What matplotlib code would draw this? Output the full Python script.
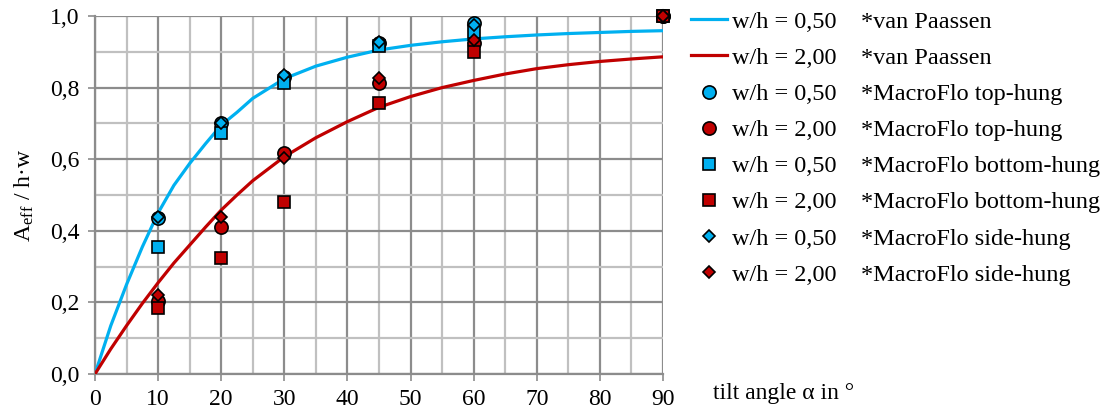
import matplotlib
matplotlib.use('Agg')
import matplotlib.pyplot as plt
from matplotlib.ticker import MultipleLocator, FuncFormatter

plt.rcParams['font.family'] = ['Liberation Serif', 'DejaVu Serif']
plt.rcParams['mathtext.fontset'] = 'custom'
plt.rcParams['mathtext.rm'] = 'Liberation Serif'
plt.rcParams['mathtext.it'] = 'Liberation Serif:italic'

# --- data ---
# van Paassen curves, read off at fixed angles
curve_angle = [0, 2.5, 5, 7.5, 10, 12.5, 15, 17.5, 20, 22.5, 25, 30, 35, 40, 45, 50,
               55, 60, 65, 70, 75, 80, 85, 90]
vp_050 = [0.0, 0.135, 0.25, 0.355, 0.45, 0.527, 0.588, 0.643, 0.695, 0.731, 0.77,
          0.825, 0.86, 0.885, 0.905, 0.918, 0.928, 0.936, 0.942, 0.947, 0.951,
          0.954, 0.957, 0.959]
vp_200 = [0.0, 0.07, 0.135, 0.197, 0.255, 0.31, 0.36, 0.41, 0.458, 0.50, 0.54,
          0.607, 0.66, 0.705, 0.745, 0.775, 0.80, 0.82, 0.838, 0.853, 0.864,
          0.873, 0.88, 0.886]

# MacroFlo results
mf_angle = [10, 20, 30, 45, 60, 90]
top_050 = [0.437, 0.70, 0.83, 0.925, 0.98, 1.0]
top_200 = [0.205, 0.411, 0.616, 0.813, 0.925, 1.0]
bottom_050 = [0.356, 0.672, 0.812, 0.915, 0.955, 1.0]
bottom_200 = [0.183, 0.323, 0.481, 0.757, 0.90, 1.0]
side_050 = [0.438, 0.702, 0.835, 0.928, 0.975, 1.0]
side_200 = [0.221, 0.438, 0.604, 0.826, 0.933, 1.0]

ratio_labels = ['w/h = 0,50', 'w/h = 2,00']
source_labels = ['*van Paassen', '*van Paassen',
                 '*MacroFlo top-hung', '*MacroFlo top-hung',
                 '*MacroFlo bottom-hung', '*MacroFlo bottom-hung',
                 '*MacroFlo side-hung', '*MacroFlo side-hung']

BLUE = '#00B0F0'
RED = '#C00000'
GRID_MAJOR = '#8c8c8c'
GRID_MINOR = '#c0c0c0'
FS = 17
FS_LEG = 17.5

W, H = 1114, 417
fig = plt.figure(figsize=(W / 100, H / 100), dpi=100)
ax = fig.add_axes([95 / W, 1 - 374 / H, (663 - 95) / W, (374 - 16) / H])

handles = []
h, = ax.plot(curve_angle, vp_050, color=BLUE, lw=2.3, zorder=3)
handles.append(h)
h, = ax.plot(curve_angle, vp_200, color=RED, lw=2.3, zorder=3)
handles.append(h)

mk = dict(linestyle='none', markeredgecolor='black', markeredgewidth=1.2,
          zorder=4, clip_on=False)
series = [(top_050, 'o', BLUE, 9.5), (top_200, 'o', RED, 9.5),
          (bottom_050, 's', BLUE, 9.0), (bottom_200, 's', RED, 9.0),
          (side_050, 'D', BLUE, 6.5), (side_200, 'D', RED, 6.5)]
for vals, m, c, ms in series:
    h, = ax.plot(mf_angle, vals, marker=m, markerfacecolor=c, markersize=ms, **mk)
    handles.append(h)

ax.set_xlim(0, 90)
ax.set_ylim(0, 1.0)
ax.xaxis.set_major_locator(MultipleLocator(10))
ax.xaxis.set_minor_locator(MultipleLocator(5))
ax.yaxis.set_major_locator(MultipleLocator(0.2))
ax.yaxis.set_minor_locator(MultipleLocator(0.1))
ax.yaxis.set_major_formatter(FuncFormatter(lambda v, p: f'{v:.1f}'.replace('.', ',')))
ax.grid(which='major', color=GRID_MAJOR, lw=1.6, zorder=0)
ax.grid(which='minor', color=GRID_MINOR, lw=1.6, zorder=0)
ax.set_axisbelow(True)
for s in ['top', 'right']:
    ax.spines[s].set_visible(False)
for s in ['left', 'bottom']:
    ax.spines[s].set_color(GRID_MAJOR)
    ax.spines[s].set_linewidth(1.6)
ax.tick_params(which='major', direction='out', length=5, width=1.2,
               color=GRID_MAJOR, labelsize=FS, pad=6)
ax.tick_params(which='minor', length=0)

ax.set_ylabel(r'A$_{\mathrm{eff}}$ / h·w', fontsize=FS, labelpad=10)
ax.text(713 / W, 1 - 394 / H, 'tilt angle α in °', transform=fig.transFigure,
        fontsize=FS, va='center', ha='left')

# legend with two text columns
row_labels = [ratio_labels[i % 2] for i in range(8)]
leg = fig.legend(handles, row_labels, loc='upper left',
                 bbox_to_anchor=(686 / W, 1 - 6 / H), bbox_transform=fig.transFigure,
                 frameon=False, fontsize=FS_LEG, handlelength=1.5, handletextpad=0.2,
                 labelspacing=0.58, borderaxespad=0.0, borderpad=0.2, numpoints=1)
fig.canvas.draw()
for t, s in zip(leg.get_texts(), source_labels):
    x0, y0 = t.get_transform().transform(t.get_position())
    fig.text(861 / W, y0 / H, s, fontsize=FS_LEG, ha='left', va='baseline')

fig.savefig('out.png', dpi=100)
